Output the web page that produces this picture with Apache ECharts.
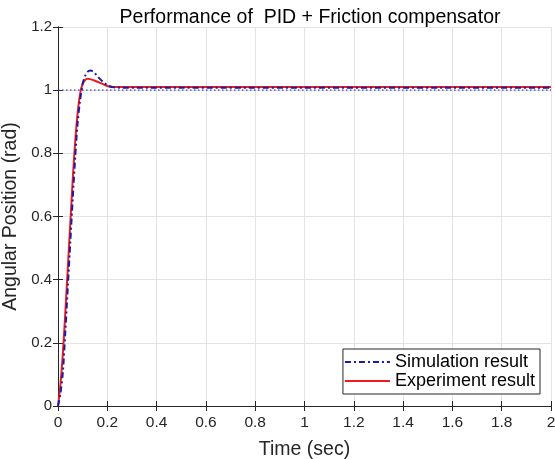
<!DOCTYPE html>
<html><head><meta charset="utf-8">
<script src="https://cdn.jsdelivr.net/npm/echarts@6/dist/echarts.min.js"></script>
<style>html,body{margin:0;padding:0;background:#fff}#c{width:555px;height:459px}</style>
</head><body><div id="c"></div>
<script>
var simT = [0, 0.01, 0.02, 0.03, 0.04, 0.05, 0.06, 0.07, 0.08, 0.09, 0.10, 0.11, 0.12, 0.13, 0.14, 0.15, 0.16, 0.18, 0.20, 0.22, 0.25, 2.0];
var simV = [0, 0.04, 0.11, 0.24, 0.38, 0.52, 0.66, 0.79, 0.90, 0.97, 1.02, 1.045, 1.058, 1.062, 1.06, 1.053, 1.044, 1.028, 1.016, 1.010, 1.008, 1.008];
var expT = [0, 0.01, 0.02, 0.03, 0.04, 0.05, 0.06, 0.07, 0.08, 0.09, 0.10, 0.11, 0.12, 0.13, 0.15, 0.18, 0.20, 0.22, 0.25, 2.0];
var expV = [0, 0.07, 0.17, 0.30, 0.44, 0.58, 0.72, 0.84, 0.93, 0.99, 1.02, 1.032, 1.036, 1.035, 1.03, 1.02, 1.013, 1.010, 1.010, 1.010];
var refT = [0, 2];
var refV = [1, 1];
var seriesNames = ['Simulation result', 'Experiment result'];
var titleText = 'Performance of  PID + Friction compensator';
var xName = 'Time (sec)';
var yName = 'Angular Position (rad)';

function pairs(t, v) { return t.map(function (x, i) { return [x, v[i]]; }); }
var font = 'Liberation Sans, Arial, sans-serif';
var axisCol = '#262626';
var chart = echarts.init(document.getElementById('c'));
chart.setOption({
  animation: false,
  backgroundColor: '#fff',
  title: { text: titleText, left: 305, top: 3, textAlign: 'center',
    textStyle: { fontFamily: font, fontSize: 19.5, fontWeight: 'normal', color: '#000' } },
  grid: { left: 58, right: 4, top: 27, bottom: 53, outerBoundsMode: 'none', containLabel: false },
  legend: {
    data: seriesNames, orient: 'vertical', right: 15, bottom: 65,
    backgroundColor: '#fff', borderColor: '#262626', borderWidth: 1,
    padding: [4, 5, 4, 1], itemGap: 1, itemWidth: 45, itemHeight: 20,
    itemStyle: { opacity: 0 },
    textStyle: { fontFamily: font, fontSize: 18, color: '#000' }
  },
  xAxis: [{
    type: 'value', min: 0, max: 2, interval: 0.2,
    name: xName, nameLocation: 'middle', nameGap: 34,
    nameTextStyle: { fontFamily: font, fontSize: 19.5, color: axisCol },
    axisLine: { show: true, onZero: false, lineStyle: { color: axisCol } },
    axisTick: { show: true, inside: true, length: 5, lineStyle: { color: axisCol } },
    axisLabel: { fontFamily: font, fontSize: 15.5, color: axisCol, margin: 9 },
    splitLine: { show: true, lineStyle: { color: '#e3e3e3', width: 1 } }
  }, {
    type: 'value', position: 'top', min: 0, max: 2, interval: 0.2,
    axisLine: { show: true, lineStyle: { color: axisCol } },
    axisTick: { show: true, inside: true, length: 5, lineStyle: { color: axisCol } },
    axisLabel: { show: false }, splitLine: { show: false }
  }],
  yAxis: [{
    type: 'value', min: 0, max: 1.2, interval: 0.2,
    name: yName, nameLocation: 'middle', nameGap: 36,
    nameTextStyle: { fontFamily: font, fontSize: 19.5, color: axisCol },
    axisLine: { show: true, lineStyle: { color: axisCol } },
    axisTick: { show: true, inside: true, length: 5, lineStyle: { color: axisCol } },
    axisLabel: { fontFamily: font, fontSize: 15, color: axisCol, margin: 6 },
    splitLine: { show: true, lineStyle: { color: '#e3e3e3', width: 1 } }
  }, {
    type: 'value', position: 'right', min: 0, max: 1.2, interval: 0.2,
    axisLine: { show: true, lineStyle: { color: axisCol } },
    axisTick: { show: true, inside: true, length: 5, lineStyle: { color: axisCol } },
    axisLabel: { show: false }, splitLine: { show: false }
  }],
  series: [{
    name: 'reference', type: 'line', data: pairs(refT, refV), showSymbol: false, symbol: 'none',
    lineStyle: { color: '#3a3ad0', width: 1.2, type: [1.5, 2.5] }, z: 1
  }, {
    name: seriesNames[1], type: 'line', data: pairs(expT, expV), smooth: 0.3, symbol: 'none',
    itemStyle: { color: '#ee1c1c' },
    lineStyle: { color: '#ee1c1c', width: 2 }, z: 2
  }, {
    name: seriesNames[0], type: 'line', data: pairs(simT, simV), smooth: 0.3, symbol: 'none',
    itemStyle: { color: '#1a1aa8' },
    lineStyle: { color: '#1a1aa8', width: 2, type: [6, 3, 2, 3] }, z: 3
  }]
});
</script></body></html>
